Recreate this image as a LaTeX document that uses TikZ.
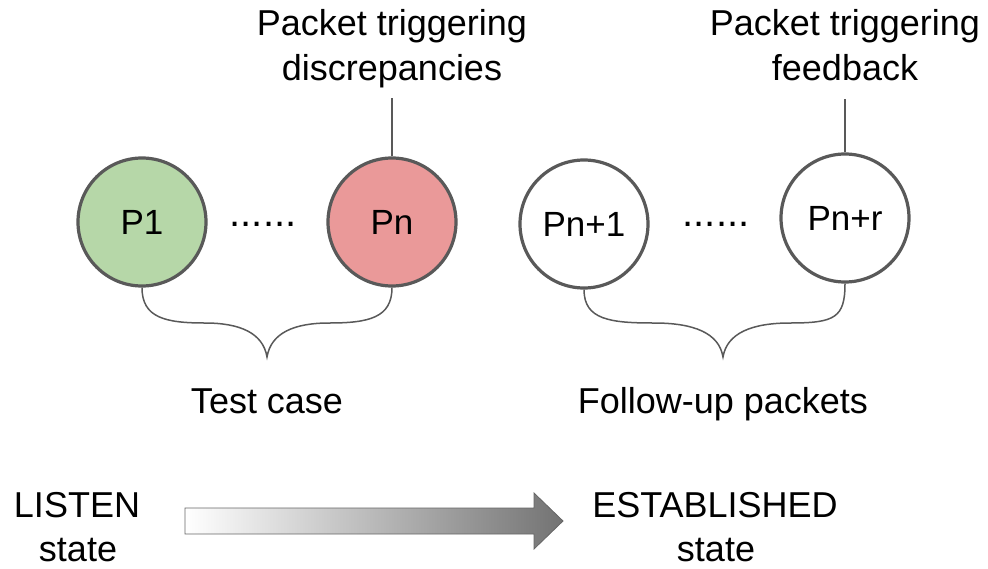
\documentclass[tikz,border=0pt]{standalone}
\usepackage{fontspec}
\setmainfont{Liberation Sans}
\usetikzlibrary{calc}
\begin{document}
\begin{tikzpicture}[x=1pt,y=-1pt,
  pkt/.style={circle, draw=edgegray, line width=3.2pt, minimum size=128pt, inner sep=0pt,
              font=\fontsize{35}{42}\selectfont},
  lbl/.style={anchor=base, inner sep=0pt, font=\fontsize{36}{45}\selectfont},
  brace/.style={draw=edgegray, line width=1.5pt},
  lead/.style={draw=edgegray, line width=1.3pt},
  dotsrow/.style={anchor=base, inner sep=0pt, font=\fontsize{40}{45}\selectfont}]
\definecolor{edgegray}{HTML}{595959}
\definecolor{okgreen}{HTML}{B6D7A8}
\definecolor{badred}{HTML}{EA9999}
\useasboundingbox (0,0) rectangle (988,568);

% packets
\node[pkt, fill=okgreen] (p1) at (142,222) {P1};
\node[pkt, fill=badred] (pn) at (392,222) {Pn};
\node[pkt, fill=white] (pn1) at (584,224) {Pn+1};
\node[pkt, fill=white] (pnr) at (845,218) {Pn+r};

\node[dotsrow] (d1) at (263,226) {......};
\node[dotsrow] (d2) at (716,226) {......};

% annotations above
\node[lbl] (t1a) at (392,35) {Packet triggering};
\node[lbl] (t1b) at (392,80) {discrepancies};
\node[lbl] (t2a) at (845,35) {Packet triggering};
\node[lbl] (t2b) at (845,80) {feedback};
\coordinate (l1) at (392,98);
\coordinate (l2) at (845,99);
\draw[lead] (pn.north) -- (l1);
\draw[lead] (pnr.north) -- (l2);

% braces
\coordinate (b1) at (267,357);
\coordinate (b2) at (723,357);
\draw[brace] (p1.south) .. controls +(0,30) and (165,323) .. (205,323)
  .. controls (240,323) and (263,333) .. (b1)
  .. controls (271,333) and (294,323) .. (329,323)
  .. controls (369,323) and ($(pn.south)+(0,30)$) .. (pn.south);
\draw[brace] (pn1.south) .. controls +(0,30) and (610,323) .. (654,323)
  .. controls (694,323) and (719,333) .. (b2)
  .. controls (727,333) and (752,323) .. (790,323)
  .. controls (835,323) and ($(pnr.south)+(0,34)$) .. (pnr.south);

\node[lbl] (tc) at (267,413) {Test case};
\node[lbl] (fu) at (723,413) {Follow-up packets};

% state transition
\node[lbl] (ls1) at (77,517) {LISTEN};
\node[lbl] (ls2) at (78,561) {state};
\node[lbl] (es1) at (715,517) {ESTABLISHED};
\node[lbl] (es2) at (716,561) {state};
\draw[draw=black!60, line width=0.8pt, left color=white, right color=black!55]
  (185,508) -- (534,508) -- (534,493) -- (563,521) -- (534,549) -- (534,534) -- (185,534) -- cycle;
\end{tikzpicture}
\end{document}
